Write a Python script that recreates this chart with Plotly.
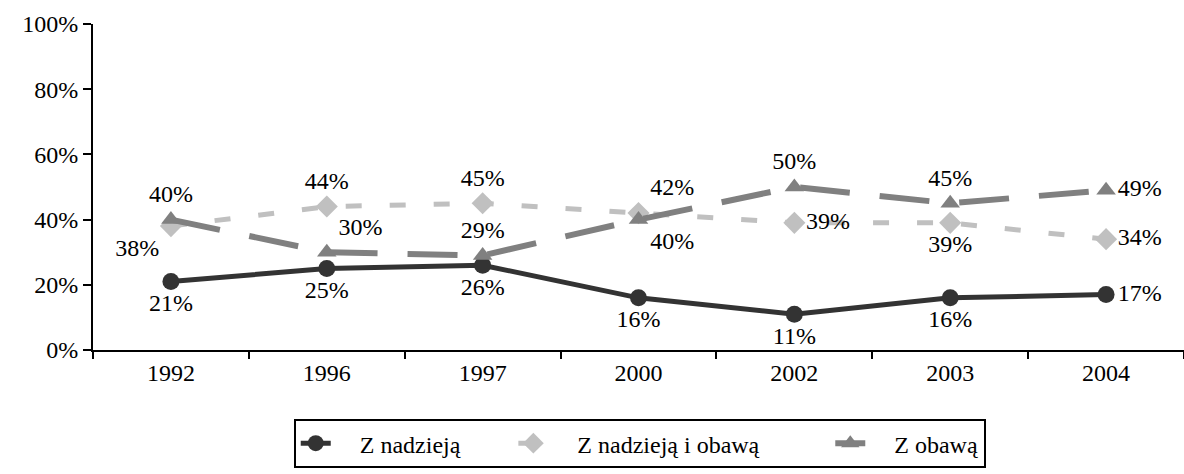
import plotly.graph_objects as go

years = ["1992", "1996", "1997", "2000", "2002", "2003", "2004"]
z_nadzieja = [0.21, 0.25, 0.26, 0.16, 0.11, 0.16, 0.17]
z_nadzieja_i_obawa = [0.38, 0.44, 0.45, 0.42, 0.39, 0.39, 0.34]
z_obawa = [0.40, 0.30, 0.29, 0.40, 0.50, 0.45, 0.49]

pos_nadzieja = ["bottom center"] * 6 + ["middle right"]
pos_mix = ["bottom left", "top center", "top center", "top right", "middle right", "bottom center", "middle right"]
pos_obawa = ["top center", "top right", "top center", "bottom right", "top center", "top center", "middle right"]

FONT = "Liberation Serif, Times New Roman, serif"
FS = 24
NB = "\u00a0"


def lbl(vals):
    return [f"{round(v*100)}%" for v in vals]


fig = go.Figure()
fig.add_trace(go.Scatter(
    x=years, y=z_nadzieja, name=NB * 4 + "Z nadzieją" + NB * 8, mode="lines+markers+text",
    line=dict(color="#333333", width=5),
    marker=dict(symbol="circle", size=17, color="#333333"),
    text=lbl(z_nadzieja), textposition=pos_nadzieja,
    textfont=dict(family=FONT, size=FS, color="black"), cliponaxis=False,
))
fig.add_trace(go.Scatter(
    x=years, y=z_nadzieja_i_obawa, name=NB * 4 + "Z nadzieją i obawą" + NB * 11, mode="lines+markers+text",
    line=dict(color="#c0c0c0", width=5, dash="16px,28px"),
    marker=dict(symbol="diamond", size=17, color="#c0c0c0"),
    text=lbl(z_nadzieja_i_obawa), textposition=pos_mix,
    textfont=dict(family=FONT, size=FS, color="black"), cliponaxis=False,
))
fig.add_trace(go.Scatter(
    x=years, y=z_obawa, name=NB * 4 + "Z obawą", mode="lines+markers+text",
    line=dict(color="#808080", width=6, dash="50px,30px"),
    marker=dict(symbol="triangle-up", size=17, color="#808080"),
    text=lbl(z_obawa), textposition=pos_obawa,
    textfont=dict(family=FONT, size=FS, color="black"), cliponaxis=False,
))

fig.update_layout(
    width=1184, height=474,
    margin=dict(l=93, r=0, t=24, b=124, autoexpand=False),
    paper_bgcolor="white", plot_bgcolor="white",
    font=dict(family=FONT, size=FS, color="black"),
    showlegend=True,
    legend=dict(
        orientation="h", x=0.184, xanchor="left", y=-0.212, yanchor="top",
        bordercolor="black", borderwidth=2, bgcolor="white",
        font=dict(family=FONT, size=FS, color="black"),
        tracegroupgap=0,
    ),
    xaxis=dict(
        type="category", range=[-0.5, 6.5], showgrid=False, automargin=False,
        showline=True, linecolor="black", linewidth=2,
        ticks="outside", tickson="boundaries", ticklen=7, tickwidth=2, tickcolor="black",
        tickfont=dict(family=FONT, size=FS, color="black"),
    ),
    yaxis=dict(
        range=[0, 1], tickvals=[0, 0.2, 0.4, 0.6, 0.8, 1.0], automargin=False,
        ticktext=["0%", "20%", "40%", "60%", "80%", "100%"],
        showgrid=False, zeroline=False,
        showline=True, linecolor="black", linewidth=2,
        ticks="outside", ticklen=8, tickwidth=2, tickcolor="black",
        tickfont=dict(family=FONT, size=FS, color="black"),
    ),
)

fig.write_html(
    "out.html",
    config={"displayModeBar": False},
    post_script="document.body.style.margin='0';document.body.style.overflow='hidden';",
)
